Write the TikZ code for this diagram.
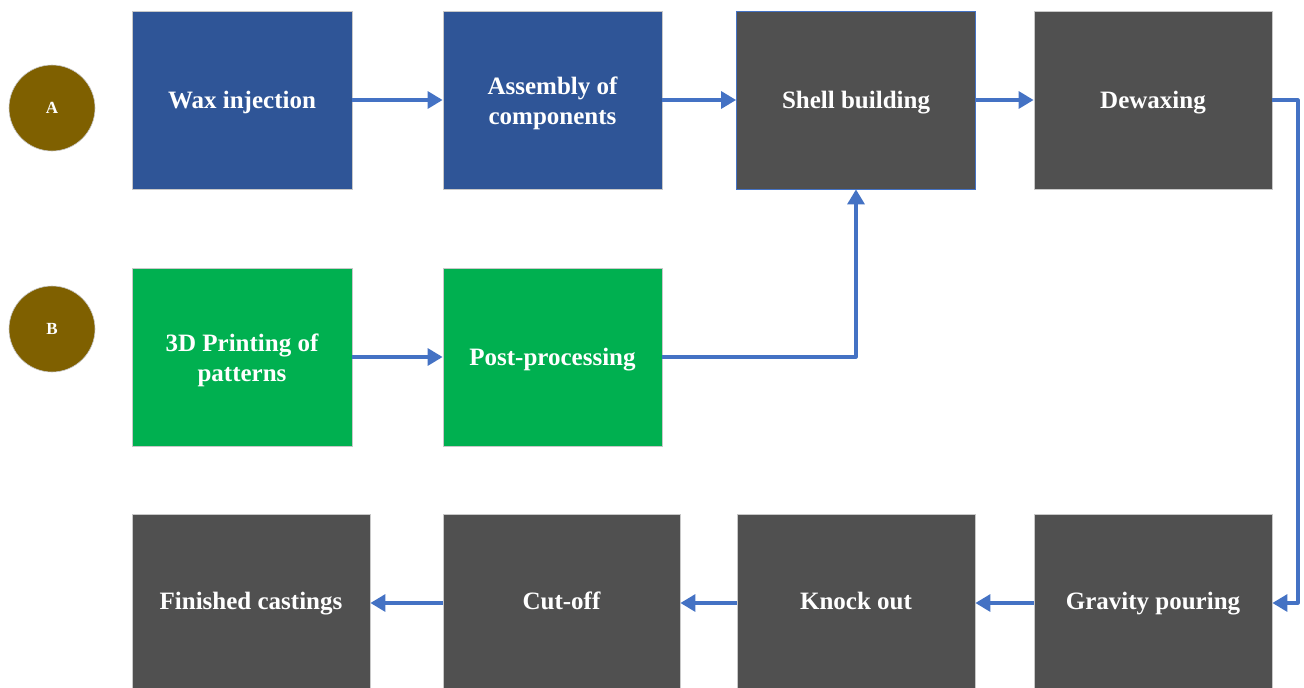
\documentclass[tikz,border=0pt]{standalone}
\usepackage{fontspec}
\setmainfont{Liberation Serif}
\usetikzlibrary{arrows.meta}
\definecolor{boxblue}{HTML}{2F5597}
\definecolor{boxgrey}{HTML}{505050}
\definecolor{boxgreen}{HTML}{00B050}
\definecolor{circbrown}{HTML}{7F6000}
\definecolor{arrowblue}{HTML}{4472C4}
\definecolor{edgegrey}{HTML}{C8C8C8}
\begin{document}
\begin{tikzpicture}[x=1pt,y=-1pt,
  boxtext/.style={inner sep=0pt,text=white,font=\fontsize{25}{30}\selectfont\bfseries,align=center,
    text height=17.5pt,text depth=1.5pt},
  stepbox/.style={boxtext,draw=edgegrey,line width=0.8pt,minimum height=178pt},
  bluebox/.style={stepbox,fill=boxblue},
  greybox/.style={stepbox,fill=boxgrey},
  greenbox/.style={stepbox,fill=boxgreen},
  lowbox/.style={greybox,minimum height=174pt},
  marker/.style={circle,fill=circbrown,draw=edgegrey,line width=0.6pt,minimum size=86pt,inner sep=0pt,
    text=white,font=\fontsize{17}{20}\selectfont\bfseries},
  flow/.style={draw=arrowblue,line width=3.2pt,line join=round,-{Triangle[length=15pt,width=17pt]}}]
\useasboundingbox (0,0) rectangle (1304,688);
\fill[white] (0,0) rectangle (1304,688);
% markers
\node[marker] (A) at (52,108) {A};
\node[marker] (B) at (52,329) {B};
% row 1
\node[bluebox,minimum width=220pt] (wax) at (242,100) {Wax injection};
\node[bluebox,minimum width=219pt] (asm) at (552.5,100) {};
\node[boxtext,yshift=-16pt] (asmtext) at (asm) {Assembly of\\components};
\node[greybox,draw=arrowblue,minimum width=239pt] (shell) at (856,100) {Shell building};
\node[greybox,minimum width=238pt] (dewax) at (1153,100) {Dewaxing};
% row 2
\node[greenbox,minimum width=220pt] (print) at (242,357) {};
\node[boxtext,yshift=-16pt] (printtext) at (print) {3D Printing of\\patterns};
\node[greenbox,minimum width=219pt] (post) at (552.5,357) {Post-processing};
% row 3
\node[lowbox,minimum width=238pt] (fin) at (251,601) {Finished castings};
\node[lowbox,minimum width=237pt] (cut) at (561.5,601) {Cut-off};
\node[lowbox,minimum width=238pt] (knock) at (856,601) {Knock out};
\node[lowbox,minimum width=238pt] (grav) at (1153,601) {Gravity pouring};
\coordinate (rt) at (1298,100);
\coordinate (rb) at (1298,603);
\coordinate (pc) at (shell.south |- post.east);
% connectors
\draw[flow] (wax.east) -- (asm.west);
\draw[flow] (asm.east) -- (shell.west);
\draw[flow] (shell.east) -- (dewax.west);
\draw[flow] (dewax.east) -- (rt) -- (rb) -- (grav.east |- rb);
\draw[flow] (print.east) -- (post.west);
\draw[flow] (post.east) -- (pc) -- (shell.south);
\draw[flow] (grav.west |- rb) -- (knock.east |- rb);
\draw[flow] (knock.west |- rb) -- (cut.east |- rb);
\draw[flow] (cut.west |- rb) -- (fin.east |- rb);
\end{tikzpicture}
\end{document}
